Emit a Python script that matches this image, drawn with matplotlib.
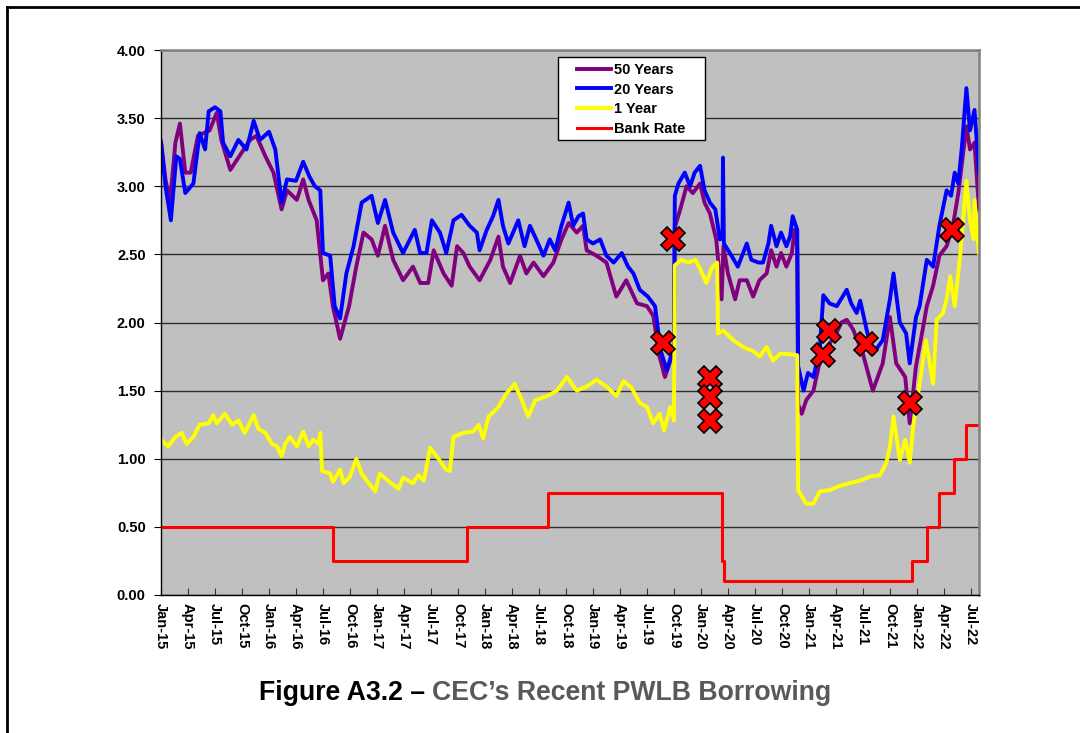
import matplotlib
matplotlib.use("Agg")
import matplotlib.pyplot as plt
from matplotlib.lines import Line2D
from matplotlib.patches import Rectangle

plt.rcParams['font.family'] = ['Liberation Sans', 'DejaVu Sans']

# x positions are months since Jan-2015
m50 = [0.0, 0.5, 1.0, 1.6, 2.1, 2.7, 3.3, 4.1, 5.4, 6.2, 6.7, 7.7, 8.4, 9.9, 10.6, 11.6, 12.5, 13.4, 14.0,
       15.1, 15.8, 16.4, 17.3, 18.0, 18.6, 19.1, 19.9, 20.9, 21.7, 22.5, 23.4, 24.1, 24.9, 25.8, 26.9, 28.0,
       28.8, 29.7, 30.3, 31.4, 32.3, 32.9, 33.6, 34.3, 35.4, 36.6, 37.5, 38.0, 38.8, 39.9, 40.6, 41.4, 42.5,
       43.6, 44.5, 45.3, 46.2, 46.9, 47.3, 48.4, 49.5, 50.6, 51.7, 52.9, 54.0, 54.7, 55.4, 56.0, 57.0, 57.1,
       57.7, 58.4, 59.1, 59.9, 60.4, 61.0, 61.7, 62.3, 62.5, 63.0, 63.8, 64.3, 65.1, 65.8, 66.5, 67.3, 67.8,
       68.4, 68.9, 69.5, 70.1, 70.4, 70.7, 70.8, 71.2, 71.7, 72.5, 73.1, 74.0, 74.9, 75.6, 76.2, 76.9, 78.0,
       79.1, 80.2, 81.0, 81.7, 82.7, 83.2, 83.9, 84.7, 85.1, 85.8, 86.5, 87.3, 88.0, 88.6, 89.1, 89.5, 89.9,
       90.4, 90.9]
y50 = [3.33, 3.05, 2.88, 3.32, 3.46, 3.10, 3.10, 3.37, 3.41, 3.54, 3.34, 3.12, 3.19, 3.34, 3.37, 3.22, 3.10,
       2.83, 2.97, 2.90, 3.05, 2.90, 2.75, 2.31, 2.36, 2.12, 1.88, 2.12, 2.41, 2.66, 2.61, 2.49, 2.71, 2.46,
       2.31, 2.41, 2.29, 2.29, 2.53, 2.36, 2.27, 2.56, 2.51, 2.41, 2.31, 2.46, 2.63, 2.41, 2.29, 2.49, 2.36,
       2.44, 2.34, 2.44, 2.61, 2.73, 2.66, 2.71, 2.53, 2.49, 2.44, 2.19, 2.31, 2.14, 2.12, 2.05, 1.75, 1.60,
       1.80, 2.70, 2.83, 3.00, 2.95, 3.02, 2.88, 2.80, 2.61, 2.17, 2.56, 2.36, 2.17, 2.31, 2.31, 2.19, 2.31,
       2.36, 2.53, 2.41, 2.51, 2.41, 2.51, 2.68, 2.55, 1.40, 1.33, 1.43, 1.50, 1.68, 1.82, 1.90, 2.00, 2.02,
       1.95, 1.77, 1.50, 1.70, 2.04, 1.70, 1.60, 1.26, 1.68, 1.97, 2.12, 2.27, 2.49, 2.56, 2.71, 2.95, 3.22,
       3.44, 3.27, 3.32, 2.83]

m20 = [0.0, 0.5, 1.1, 1.7, 2.1, 2.7, 3.6, 4.3, 4.9, 5.3, 6.0, 6.6, 6.9, 7.7, 8.6, 9.5, 10.3, 11.0, 12.0,
       12.7, 13.1, 13.4, 14.0, 15.0, 15.8, 16.5, 17.1, 17.7, 18.0, 18.8, 19.3, 19.9, 20.6, 21.4, 22.3, 23.4,
       24.1, 24.9, 25.8, 26.9, 28.2, 28.8, 29.5, 30.1, 31.0, 31.7, 32.5, 33.4, 34.3, 35.1, 35.4, 36.2, 36.9,
       37.5, 38.0, 38.6, 39.7, 40.4, 41.0, 41.7, 42.5, 43.2, 43.8, 44.5, 45.3, 45.8, 46.4, 46.9, 47.3, 48.0,
       48.8, 49.5, 50.3, 51.2, 51.9, 52.5, 53.2, 54.1, 54.9, 55.5, 56.2, 57.0, 57.1, 57.5, 58.2, 58.8, 59.3,
       59.9, 60.4, 61.0, 61.6, 62.1, 62.4, 62.45, 62.55, 63.4, 64.1, 65.1, 65.6, 66.4, 66.9, 67.5, 67.8, 68.4,
       68.9, 69.5, 69.9, 70.2, 70.7, 70.8, 71.4, 71.9, 72.5, 73.2, 73.6, 74.3, 75.1, 76.2, 76.7, 77.3, 77.7,
       78.4, 79.1, 80.2, 81.0, 81.4, 82.1, 82.8, 83.2, 83.9, 84.3, 85.1, 85.8, 86.5, 87.3, 87.8, 88.2, 88.6,
       89.0, 89.5, 89.9, 90.4, 90.9]
y20 = [3.32, 3.00, 2.75, 3.22, 3.20, 2.95, 3.02, 3.39, 3.27, 3.55, 3.58, 3.55, 3.32, 3.22, 3.34, 3.27, 3.48,
       3.34, 3.40, 3.27, 3.05, 2.88, 3.05, 3.04, 3.18, 3.07, 3.00, 2.97, 2.51, 2.49, 2.12, 2.03, 2.36, 2.56,
       2.88, 2.93, 2.73, 2.90, 2.66, 2.51, 2.68, 2.51, 2.51, 2.75, 2.66, 2.51, 2.75, 2.79, 2.71, 2.66, 2.53,
       2.68, 2.78, 2.90, 2.71, 2.58, 2.75, 2.56, 2.71, 2.61, 2.49, 2.61, 2.53, 2.71, 2.88, 2.71, 2.78, 2.80,
       2.61, 2.58, 2.61, 2.49, 2.44, 2.51, 2.41, 2.36, 2.24, 2.19, 2.12, 1.80, 1.65, 1.82, 2.93, 3.02, 3.10,
       3.00, 3.10, 3.15, 2.97, 2.88, 2.83, 2.61, 2.62, 3.21, 2.58, 2.49, 2.41, 2.58, 2.46, 2.44, 2.44, 2.58,
       2.71, 2.56, 2.66, 2.56, 2.63, 2.78, 2.68, 1.68, 1.50, 1.63, 1.60, 1.80, 2.20, 2.14, 2.12, 2.24, 2.14,
       2.07, 2.16, 1.95, 1.77, 1.87, 2.17, 2.36, 2.00, 1.92, 1.70, 2.04, 2.12, 2.46, 2.41, 2.71, 2.97, 2.93,
       3.10, 3.02, 3.29, 3.72, 3.41, 3.56, 3.10]

m1 = [0.0, 0.8, 1.6, 2.3, 2.85, 3.6, 4.3, 5.3, 5.8, 6.2, 7.1, 7.9, 8.6, 9.3, 10.3, 10.8, 11.6, 12.3, 12.9,
      13.4, 13.8, 14.3, 15.1, 15.8, 16.4, 16.9, 17.5, 17.7, 17.9, 18.8, 19.1, 19.9, 20.3, 21.0, 21.7, 22.3,
      23.2, 23.8, 24.3, 25.4, 26.4, 26.9, 28.0, 28.6, 29.2, 29.9, 30.6, 31.7, 32.1, 32.5, 33.6, 34.7, 35.3,
      35.8, 36.4, 37.5, 38.4, 39.3, 40.1, 40.8, 41.6, 42.9, 44.0, 45.1, 46.2, 47.3, 48.4, 49.5, 50.6, 51.4,
      52.3, 53.2, 54.0, 54.7, 55.4, 55.9, 56.6, 57.0, 57.1, 57.8, 58.6, 59.4, 60.0, 60.6, 61.2, 61.8, 61.9,
      62.5, 63.6, 64.7, 65.8, 66.5, 67.3, 68.0, 68.8, 69.5, 70.7, 70.8, 71.7, 72.5, 73.2, 74.3, 75.4, 76.5,
      77.7, 78.8, 79.9, 80.6, 81.0, 81.4, 82.1, 82.7, 83.2, 83.6, 84.3, 85.0, 85.8, 86.2, 86.9, 87.3, 87.7,
      88.2, 88.8, 89.5, 89.9, 90.3, 90.4, 90.9]
y1 = [1.14, 1.09, 1.16, 1.19, 1.11, 1.16, 1.25, 1.26, 1.32, 1.26, 1.33, 1.25, 1.28, 1.19, 1.32, 1.22, 1.19,
      1.11, 1.09, 1.02, 1.11, 1.16, 1.09, 1.20, 1.09, 1.14, 1.11, 1.19, 0.91, 0.89, 0.83, 0.92, 0.82, 0.87,
      1.00, 0.89, 0.81, 0.76, 0.89, 0.83, 0.78, 0.86, 0.82, 0.88, 0.84, 1.08, 1.02, 0.92, 0.91, 1.16, 1.19,
      1.20, 1.25, 1.15, 1.31, 1.38, 1.48, 1.55, 1.43, 1.31, 1.43, 1.46, 1.50, 1.60, 1.50, 1.53, 1.58, 1.53,
      1.46, 1.57, 1.52, 1.41, 1.38, 1.26, 1.33, 1.21, 1.38, 1.28, 2.42, 2.46, 2.44, 2.46, 2.38, 2.29, 2.40,
      2.44, 1.92, 1.94, 1.87, 1.82, 1.79, 1.75, 1.82, 1.72, 1.77, 1.77, 1.76, 0.77, 0.67, 0.67, 0.76, 0.77,
      0.80, 0.82, 0.84, 0.87, 0.88, 0.97, 1.09, 1.31, 0.99, 1.14, 0.97, 1.24, 1.55, 1.87, 1.55, 2.02, 2.07,
      2.17, 2.34, 2.12, 2.49, 3.04, 2.75, 2.61, 2.90, 2.51]

bank_m = [0.0, 19.1, 34.05, 43.05, 62.33, 62.6, 83.5, 85.1, 86.5, 88.1, 89.5, 90.9]
bank_v = [0.50, 0.25, 0.50, 0.75, 0.25, 0.10, 0.25, 0.50, 0.75, 1.00, 1.25, 1.25]

# CEC borrowing points
borrow_m = [55.8, 56.9, 61.0, 61.0, 61.0, 73.6, 74.2, 78.3, 83.2, 87.9]
borrow_v = [1.85, 2.61, 1.59, 1.45, 1.28, 1.76, 1.94, 1.84, 1.41, 2.68]

tick_labels = ['Jan-15', 'Apr-15', 'Jul-15', 'Oct-15', 'Jan-16', 'Apr-16', 'Jul-16', 'Oct-16',
               'Jan-17', 'Apr-17', 'Jul-17', 'Oct-17', 'Jan-18', 'Apr-18', 'Jul-18', 'Oct-18',
               'Jan-19', 'Apr-19', 'Jul-19', 'Oct-19', 'Jan-20', 'Apr-20', 'Jul-20', 'Oct-20',
               'Jan-21', 'Apr-21', 'Jul-21', 'Oct-21', 'Jan-22', 'Apr-22', 'Jul-22']

fig = plt.figure(figsize=(10.8, 7.33), dpi=100)
ax = fig.add_axes([161/1080, 138/733, 818/1080, 545/733])
ax.set_facecolor('#C0C0C0')

ax.plot(m50, y50, color='#800080', lw=2.8, label='50 Years')
ax.plot(m20, y20, color='#0000FF', lw=2.8, label='20 Years')
ax.plot(m1, y1, color='#FFFF00', lw=2.8, label='1 Year')
ax.plot(bank_m, bank_v, color='#FF0000', lw=2.2, drawstyle='steps-post', label='Bank Rate')
ax.plot(borrow_m, borrow_v, ls='none', marker='X', ms=17, mfc='#FF0000', mec='black', mew=1.2, zorder=5)

ax.set_xlim(0, 90.9)
ax.set_ylim(0, 4)
ax.set_yticks([i * 0.5 for i in range(9)])
ax.set_yticklabels(['%.2f' % (i * 0.5) for i in range(9)], fontsize=10.5, fontweight='bold')
ax.set_xticks(range(0, 91, 3))
ax.set_xticklabels(tick_labels, rotation=270, fontsize=10.5, fontweight='bold')
ax.tick_params(axis='x', direction='in', length=5, pad=6, color='#333333')
ax.tick_params(axis='y', direction='out', length=5, pad=6)
ax.yaxis.grid(True, color='#303030', lw=1.0)
ax.set_axisbelow(True)

for s in ['top', 'right']:
    ax.spines[s].set_color('#808080')
    ax.spines[s].set_linewidth(1.8)
for s in ['left', 'bottom']:
    ax.spines[s].set_color('black')
    ax.spines[s].set_linewidth(1.0)

# legend box drawn separately so the padding matches
ax.add_patch(Rectangle(((558-161)/818, (595-140)/545), 147/818, 83/545, transform=ax.transAxes,
                       facecolor='white', edgecolor='black', lw=1.0, zorder=6))
leg = ax.legend(loc='upper left', bbox_to_anchor=((577-161)/818, (595-63)/545), frameon=False,
                prop={'weight': 'bold', 'size': 10.5}, handlelength=2.3, handletextpad=0.25,
                labelspacing=0.38, borderpad=0, borderaxespad=0)
leg.set_zorder(7)

# outer frame (left and top edges)
fig.add_artist(Line2D([7/1080, 7/1080], [0, 1 - 7/733], color='black', lw=2.0))
fig.add_artist(Line2D([7/1080, 1], [1 - 7/733, 1 - 7/733], color='black', lw=2.0))

# two-colour caption
t1 = fig.text(259/1080, 33/733, 'Figure A3.2 \u2013 ', fontsize=19.2, fontweight='bold', color='black',
              ha='left', va='baseline')
fig.canvas.draw()
bb = t1.get_window_extent()
fig.text(bb.x1 / 1080, 33/733, 'CEC\u2019s Recent PWLB Borrowing', fontsize=19.2, fontweight='bold',
         color='#595959', ha='left', va='baseline')

fig.savefig('out.png', dpi=100)
